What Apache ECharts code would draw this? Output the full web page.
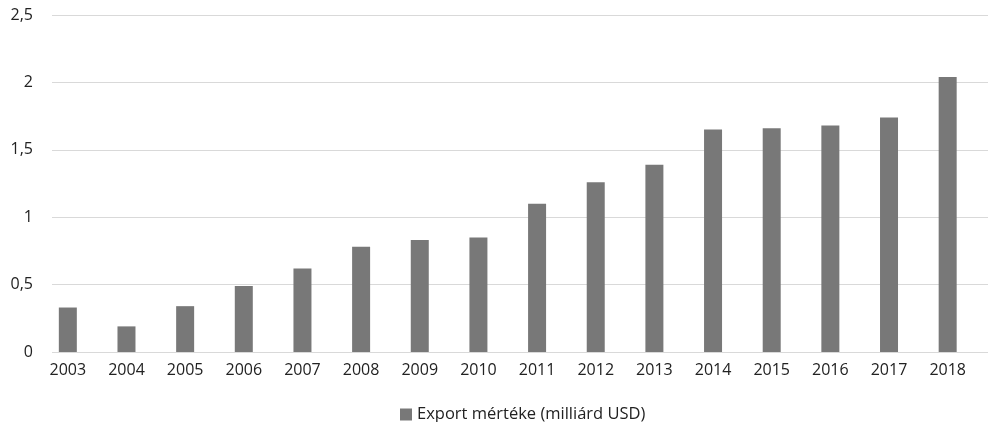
<!DOCTYPE html>
<html>
<head>
<meta charset="utf-8">
<script src="https://cdn.jsdelivr.net/npm/echarts@6/dist/echarts.min.js"></script>
<style>html,body{margin:0;padding:0;background:#fff;}#c{width:989px;height:422px;}</style>
</head>
<body>
<div id="c"></div>
<script>
var categories = ['2003','2004','2005','2006','2007','2008','2009','2010','2011','2012','2013','2014','2015','2016','2017','2018'];
var exportValues = [0.33, 0.19, 0.34, 0.49, 0.62, 0.78, 0.83, 0.85, 1.10, 1.26, 1.39, 1.65, 1.66, 1.68, 1.74, 2.04];
var seriesName = 'Export mértéke (milliárd USD)';
var yTicks = { min: 0, max: 2.5, interval: 0.5 };

var chart = echarts.init(document.getElementById('c'));
var font = 'Open Sans';
chart.setOption({
  animation: false,
  backgroundColor: '#fff',
  textStyle: { fontFamily: font },
  legend: {
    top: 401, left: 395,
    icon: 'rect', itemWidth: 12, itemHeight: 12, itemGap: 8,
    textStyle: { fontFamily: font, fontSize: 16.5, color: '#222' },
    data: [seriesName]
  },
  grid: [
    { left: 38.5, right: 12, top: 15, bottom: 70 },
    { left: 52, right: 1, top: 15, bottom: 70 }
  ],
  xAxis: [
    { type: 'category', gridIndex: 0, data: categories,
      axisLine: { show: false }, axisTick: { show: false },
      axisLabel: { fontFamily: font, fontSize: 16, color: '#222', margin: 10 } },
    { type: 'category', gridIndex: 1, data: categories, show: false }
  ],
  yAxis: [
    { type: 'value', gridIndex: 0, min: yTicks.min, max: yTicks.max, interval: yTicks.interval, show: false, splitLine: { show: false } },
    { type: 'value', gridIndex: 1, min: yTicks.min, max: yTicks.max, interval: yTicks.interval,
      axisLine: { show: false }, axisTick: { show: false },
      splitLine: { lineStyle: { color: '#d9d9d9', width: 1 } },
      axisLabel: { fontFamily: font, fontSize: 16, color: '#222', margin: 19,
        formatter: function (v) { return String(v).replace('.', ','); } } }
  ],
  series: [
    { name: seriesName, type: 'bar', xAxisIndex: 0, yAxisIndex: 0, data: exportValues,
      barWidth: 18, itemStyle: { color: '#787878' } }
  ]
});
</script>
</body>
</html>
